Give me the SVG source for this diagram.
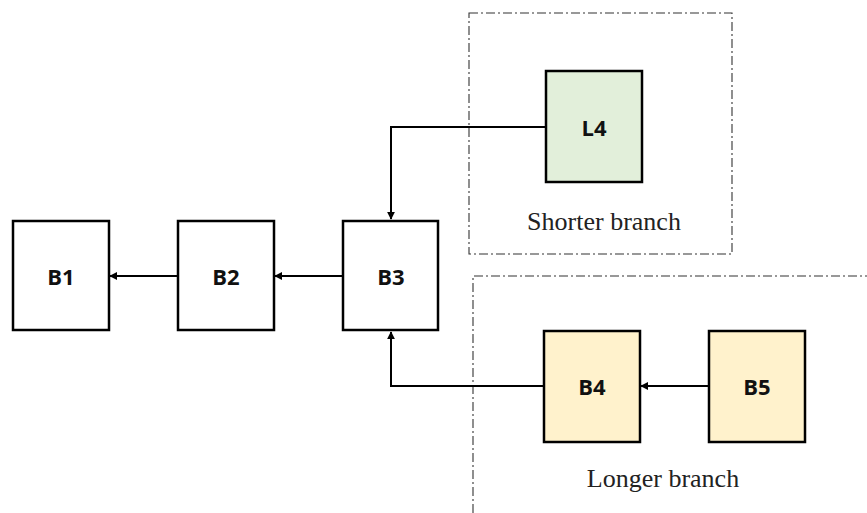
<svg xmlns="http://www.w3.org/2000/svg" width="867" height="513" viewBox="0 0 867 513">
  <style>
    .node { stroke: #000; stroke-width: 2.5; }
    .plain { fill: #fff; }
    .green { fill: #e2efda; }
    .yellow { fill: #fff2cc; }
    .label { font-family: "Open Sans", "Liberation Sans", sans-serif; font-weight: bold; font-size: 22px; text-anchor: middle; dominant-baseline: central; fill: #111; }
    .caption { font-family: "Liberation Serif", serif; font-size: 26px; text-anchor: middle; fill: #222; }
    .region { fill: none; stroke: #333; stroke-width: 1.1; stroke-dasharray: 9 3 2 3; }
    .wire { fill: none; stroke: #000; stroke-width: 2; }
  </style>
  <defs>
    <marker id="arrow" viewBox="0 0 10 10" refX="9" refY="5" markerWidth="4" markerHeight="4" orient="auto">
      <path d="M0,0 L10,5 L0,10 z" fill="#000"/>
    </marker>
  </defs>
  <rect width="867" height="513" fill="#fff"/>

  <!-- branch regions -->
  <g id="shorter-branch">
    <rect class="region" x="469" y="13" width="263" height="241"/>
    <text class="caption" x="604" y="230">Shorter branch</text>
  </g>
  <g id="longer-branch">
    <path class="region" d="M473,513 L473,276 L867,276"/>
    <text class="caption" x="663" y="487">Longer branch</text>
  </g>

  <!-- connectors -->
  <g id="connectors">
    <path class="wire" d="M178,276 L110,276" marker-end="url(#arrow)"/>
    <path class="wire" d="M343,276 L275,276" marker-end="url(#arrow)"/>
    <path class="wire" d="M546,127 L391,127 L391,219" marker-end="url(#arrow)"/>
    <path class="wire" d="M544,386 L391,386 L391,332" marker-end="url(#arrow)"/>
    <path class="wire" d="M709,386 L641,386" marker-end="url(#arrow)"/>
  </g>

  <!-- nodes -->
  <g id="B1">
    <rect class="node plain" x="13" y="221" width="96" height="109"/>
    <text class="label" x="61" y="276">B1</text>
  </g>
  <g id="B2">
    <rect class="node plain" x="178" y="221" width="96" height="109"/>
    <text class="label" x="226" y="276">B2</text>
  </g>
  <g id="B3">
    <rect class="node plain" x="343" y="221" width="95" height="109"/>
    <text class="label" x="391" y="276">B3</text>
  </g>
  <g id="L4">
    <rect class="node green" x="546" y="71" width="96" height="111"/>
    <text class="label" x="594" y="127">L4</text>
  </g>
  <g id="B4">
    <rect class="node yellow" x="544" y="331" width="96" height="111"/>
    <text class="label" x="592" y="386">B4</text>
  </g>
  <g id="B5">
    <rect class="node yellow" x="709" y="331" width="96" height="111"/>
    <text class="label" x="757" y="386">B5</text>
  </g>
</svg>
